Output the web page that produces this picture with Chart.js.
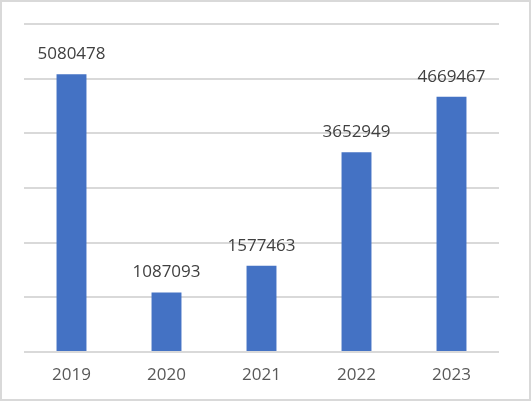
<!DOCTYPE html>
<html>
<head>
<meta charset="utf-8">
<script src="https://cdn.jsdelivr.net/npm/chart.js@4"></script>
<style>
html,body{margin:0;padding:0;background:#fff;}
#wrap{width:531px;height:401px;position:relative;}
</style>
</head>
<body>
<div id="wrap"><canvas id="c" width="531" height="401"></canvas></div>
<script>
const categories = ["2019", "2020", "2021", "2022", "2023"];
const values = [5080478, 1087093, 1577463, 3652949, 4669467];
const yMax = 6000000;
const yStep = 1000000;

const frame = {
  id: 'frame',
  beforeDraw(chart) {
    const ctx = chart.ctx;
    ctx.save();
    ctx.fillStyle = '#ffffff';
    ctx.fillRect(0, 0, chart.width, chart.height);
    ctx.restore();
  },
  afterDraw(chart) {
    const ctx = chart.ctx;
    ctx.save();
    ctx.strokeStyle = '#d9d9d9';
    ctx.lineWidth = 2;
    ctx.strokeRect(1, 1, chart.width - 2, chart.height - 2);
    ctx.restore();
  }
};

const labelsPlugin = {
  id: 'barLabels',
  afterDatasetsDraw(chart) {
    const ctx = chart.ctx;
    const meta = chart.getDatasetMeta(0);
    ctx.save();
    ctx.font = '17px "Open Sans"';
    ctx.fillStyle = '#404040';
    ctx.textAlign = 'center';
    ctx.textBaseline = 'middle';
    meta.data.forEach((bar, i) => {
      ctx.fillText(String(chart.data.datasets[0].data[i]), bar.x, bar.y - 20);
    });
    ctx.restore();
  }
};

new Chart(document.getElementById('c'), {
  type: 'bar',
  data: {
    labels: categories,
    datasets: [{
      data: values,
      backgroundColor: '#4472C4',
      borderWidth: 0,
      barPercentage: 0.315,
      categoryPercentage: 1
    }]
  },
  options: {
    responsive: false,
    devicePixelRatio: 1,
    animation: false,
    layout: { padding: { left: 24, right: 32, top: 24, bottom: 0 } },
    plugins: { legend: { display: false }, tooltip: { enabled: false } },
    scales: {
      x: {
        grid: { display: false, drawTicks: false },
        border: { display: false },
        ticks: {
          color: '#595959',
          font: { family: '"Open Sans"', size: 17, lineHeight: 1.2 },
          padding: 13
        },
        afterFit(scale) { scale.height = 49; }
      },
      y: {
        min: 0,
        max: yMax,
        ticks: { display: false, stepSize: yStep },
        grid: { color: '#d9d9d9', lineWidth: 2, drawTicks: false },
        border: { display: false },
        afterFit(scale) { scale.width = 0; }
      }
    }
  },
  plugins: [frame, labelsPlugin]
});
</script>
</body>
</html>
